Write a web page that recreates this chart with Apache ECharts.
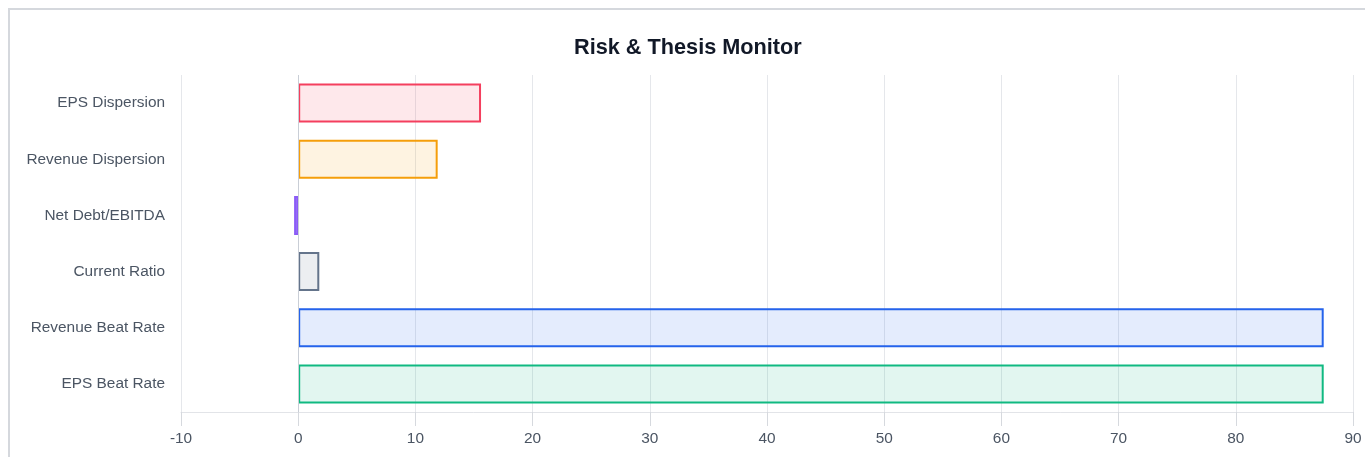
<!DOCTYPE html>
<html>
<head>
<meta charset="utf-8">
<script src="https://cdn.jsdelivr.net/npm/echarts@6/dist/echarts.min.js"></script>
<style>
  html, body { margin: 0; padding: 0; background: #fff; overflow: hidden; }
  .frame {
    position: absolute; left: 8px; top: 8px;
    width: 1400px; height: 500px;
    border: 2px solid #d5d8dd;
  }
  .chart-container {
    position: absolute; left: 0; top: 0;
    width: 1365px; height: 457px;
  }
</style>
</head>
<body>
<div class="frame"></div>
<div class="chart-container" id="chart"></div>
<script>
// bottom to top, as ECharts lays out a category y axis
const categories = ['EPS Beat Rate', 'Revenue Beat Rate', 'Current Ratio', 'Net Debt/EBITDA', 'Revenue Dispersion', 'EPS Dispersion'];
const values = [87.5, 87.5, 1.8, -0.35, 11.9, 15.6];
const colors = ['#10b981', '#2563eb', '#64748b', '#8b5cf6', '#f59e0b', '#f43f5e'];

const hexToRgba = (hex, a) => {
  const n = parseInt(hex.slice(1), 16);
  return 'rgba(' + (n >> 16) + ',' + ((n >> 8) & 255) + ',' + (n & 255) + ',' + a + ')';
};

const font = '"Liberation Sans", Arial, sans-serif';
const chart = echarts.init(document.getElementById('chart'));
const option = {
  textStyle: { fontFamily: font },
  title: {
    text: 'Risk & Thesis Monitor',
    left: 569,
    top: 32,
    textStyle: { fontSize: 21.7, fontWeight: 'bold', color: '#111827', fontFamily: font }
  },
  grid: { left: 181, right: 12, top: 75, bottom: 45 },
  xAxis: {
    type: 'value',
    min: -10,
    max: 90,
    interval: 10,
    axisLine: { show: true, lineStyle: { color: '#e2e4e8', width: 1 } },
    axisTick: { show: true, length: 14, lineStyle: { color: '#d6d9de', width: 1 } },
    axisLabel: { color: '#4b5563', fontSize: 15.4, margin: 19 },
    splitLine: { show: true, lineStyle: { color: '#e5e7eb', width: 1 } }
  },
  yAxis: {
    type: 'category',
    data: categories,
    axisLine: { show: false, onZero: false },
    axisTick: { show: false },
    axisLabel: { color: '#4b5563', fontSize: 15.4, margin: 16 },
    splitLine: { show: false }
  },
  series: [
    {
      type: 'bar',
      barWidth: 39,
      data: values.map((v, i) => ({
        value: v,
        itemStyle: {
          color: hexToRgba(colors[i], 0.12),
          borderColor: colors[i],
          borderWidth: 2
        }
      })),
      markLine: {
        silent: true,
        symbol: 'none',
        label: { show: false },
        lineStyle: { color: '#c9ced6', type: 'solid', width: 1 },
        data: [{ xAxis: 0 }]
      }
    }
  ]
};
chart.setOption(option);
window.addEventListener('resize', () => chart.resize());
</script>
</body>
</html>
